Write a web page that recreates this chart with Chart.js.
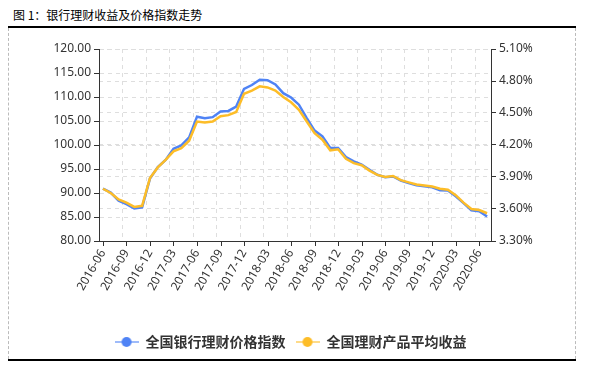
<!DOCTYPE html>
<html>
<head>
<meta charset="utf-8">
<script src="https://cdn.jsdelivr.net/npm/chart.js@4/dist/chart.umd.min.js"></script>
<style>
  html, body { margin: 0; padding: 0; background: #fff; }
  #wrap { position: relative; width: 589px; height: 372px; overflow: hidden; }
  #title { position: absolute; left: 13px; top: 7px; font: 12px "Noto Sans CJK SC", sans-serif; color: #000; line-height: 16px; white-space: nowrap; }
  #topline { position: absolute; left: 8px; top: 26px; width: 568px; height: 2px; background: #000; }
  #botline { position: absolute; left: 8px; top: 359px; width: 568px; height: 2px; background: #000; }
  #frame { position: absolute; left: 8px; top: 28px; width: 566px; height: 331px; border-left: 1px dashed #bbb; border-right: 1px dashed #bbb; }
  #cv { position: absolute; left: 0; top: 0; }
</style>
</head>
<body>
<div id="wrap">
  <div id="title">图 1：银行理财收益及价格指数走势</div>
  <div id="topline"></div>
  <div id="frame"></div>
  <div id="botline"></div>
  <canvas id="cv" width="589" height="372"></canvas>
</div>
<script>
// ---- data ----
const months = [
  '2016-06','2016-07','2016-08','2016-09','2016-10','2016-11','2016-12',
  '2017-01','2017-02','2017-03','2017-04','2017-05','2017-06','2017-07','2017-08','2017-09','2017-10','2017-11','2017-12',
  '2018-01','2018-02','2018-03','2018-04','2018-05','2018-06','2018-07','2018-08','2018-09','2018-10','2018-11','2018-12',
  '2019-01','2019-02','2019-03','2019-04','2019-05','2019-06','2019-07','2019-08','2019-09','2019-10','2019-11','2019-12',
  '2020-01','2020-02','2020-03','2020-04','2020-05','2020-06','2020-07'
];
const seriesNames = ['全国银行理财价格指数', '全国理财产品平均收益'];
const priceIndex = [
  90.9, 90.1, 88.4, 87.7, 86.8, 87.0, 93.0,
  95.4, 96.9, 99.2, 99.9, 101.6, 105.9, 105.6, 105.8, 107.0, 107.1, 108.0, 111.7,
  112.5, 113.6, 113.5, 112.6, 110.8, 109.9, 108.4, 105.6, 103.0, 101.8, 99.4, 99.4,
  97.5, 96.6, 95.9, 94.85, 93.8, 93.3, 93.45, 92.6, 92.05, 91.6, 91.4, 91.2,
  90.55, 90.5, 89.3, 87.9, 86.4, 86.2, 85.1
];
const avgYield = [
  3.79, 3.75, 3.69, 3.66, 3.62, 3.63, 3.89,
  3.99, 4.06, 4.14, 4.17, 4.24, 4.42, 4.41, 4.42, 4.47, 4.48, 4.51, 4.68,
  4.71, 4.75, 4.74, 4.71, 4.65, 4.60, 4.53, 4.42, 4.31, 4.25, 4.15, 4.16,
  4.07, 4.03, 4.01, 3.96, 3.92, 3.90, 3.91, 3.87, 3.85, 3.83, 3.82, 3.81,
  3.79, 3.78, 3.73, 3.66, 3.60, 3.59, 3.56
];
const leftTicks = { min: 80, max: 120, step: 5 };
const rightTicks = { min: 3.3, max: 5.1, step: 0.3 };

const BLUE = '#4f83f5';
const YELLOW = '#fdbd28';

function legendIcon(color, lineColor) {
  const c = document.createElement('canvas');
  c.width = 24; c.height = 12;
  const g = c.getContext('2d');
  g.strokeStyle = lineColor; g.lineWidth = 2;
  g.beginPath(); g.moveTo(0, 6); g.lineTo(24, 6); g.stroke();
  g.fillStyle = color;
  g.beginPath(); g.arc(12, 6, 5, 0, Math.PI * 2); g.fill();
  return c;
}
const icons = [legendIcon(BLUE, 'rgba(79,131,245,0.55)'), legendIcon(YELLOW, 'rgba(253,189,40,0.55)')];

const xTickMarks = {
  id: 'xTickMarks',
  afterDraw(chart) {
    const xs = chart.scales.x;
    const ctx = chart.ctx;
    ctx.save();
    ctx.strokeStyle = '#333';
    ctx.lineWidth = 1;
    for (let i = 0; i < months.length; i += 3) {
      const px = Math.round(xs.getPixelForTick(i)) + 0.5;
      ctx.beginPath();
      ctx.moveTo(px, xs.top);
      ctx.lineTo(px, xs.top + 5);
      ctx.stroke();
    }
    ctx.restore();
  }
};

const tickFont = { family: '"Noto Sans", sans-serif', size: 12 };

new Chart(document.getElementById('cv'), {
  type: 'line',
  data: {
    labels: months,
    datasets: [
      { label: seriesNames[0], data: priceIndex, yAxisID: 'y', borderColor: BLUE, backgroundColor: BLUE,
        borderWidth: 2.5, pointRadius: 0, tension: 0, order: 1 },
      { label: seriesNames[1], data: avgYield, yAxisID: 'y1', borderColor: YELLOW, backgroundColor: YELLOW,
        borderWidth: 2.5, pointRadius: 0, tension: 0, order: 0 }
    ]
  },
  options: {
    responsive: false,
    animation: false,
    layout: { padding: { left: 40, right: 48, top: 49, bottom: 13 } },
    plugins: {
      legend: {
        position: 'bottom',
        labels: {
          usePointStyle: true,
          pointStyleWidth: 24,
          padding: 10,
          color: '#333',
          font: { family: '"Noto Sans CJK SC", sans-serif', size: 14, weight: 'bold' },
          sort: (a, b) => a.datasetIndex - b.datasetIndex,
          generateLabels(chart) {
            const items = Chart.defaults.plugins.legend.labels.generateLabels(chart);
            items.forEach((it) => { it.pointStyle = icons[it.datasetIndex]; });
            return items;
          }
        }
      },
      tooltip: { enabled: false }
    },
    scales: {
      x: {
        offset: true,
        afterFit(s) { s.height = 84; },
        grid: {
          offset: true,
          drawTicks: false,
          color: (c) => (c.index % 3 === 0 ? '#dedede' : 'rgba(0,0,0,0)')
        },
        border: { color: '#333', dash: [4, 4] },
        ticks: {
          autoSkip: false,
          minRotation: 60,
          maxRotation: 60,
          padding: 6,
          color: '#333',
          font: tickFont,
          callback: function (v, i) { return i % 3 === 0 ? months[i] : ''; }
        }
      },
      y: {
        position: 'left',
        min: leftTicks.min,
        max: leftTicks.max,
        afterFit(s) { s.width = 59; },
        grid: { color: '#dedede', tickColor: '#333', tickLength: 5 },
        border: { color: '#333', dash: [4, 4] },
        ticks: {
          stepSize: leftTicks.step,
          padding: 3,
          color: '#333',
          font: tickFont,
          callback: (v) => Number(v).toFixed(2)
        }
      },
      y1: {
        position: 'right',
        min: rightTicks.min,
        max: rightTicks.max,
        afterFit(s) { s.width = 50; },
        grid: { color: '#dedede', tickColor: '#333', tickLength: 5 },
        border: { color: '#333', dash: [4, 4] },
        ticks: {
          stepSize: rightTicks.step,
          padding: 3,
          color: '#333',
          font: tickFont,
          callback: (v) => Number(v).toFixed(2) + '%'
        }
      }
    }
  },
  plugins: [xTickMarks]
});
</script>
</body>
</html>
